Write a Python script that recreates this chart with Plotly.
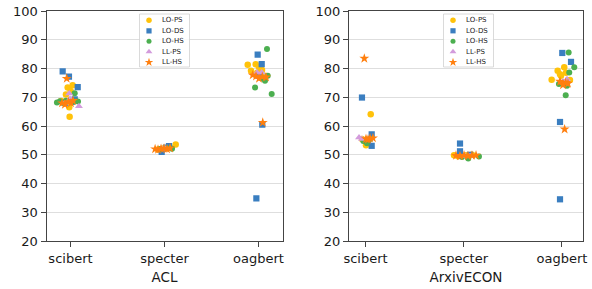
import plotly.graph_objects as go

# ---------------- data ----------------
CATEGORIES = ["scibert", "specter", "oagbert"]
SERIES = ["LO-PS", "LO-DS", "LO-HS", "LL-PS", "LL-HS"]
DATASETS = ["ACL", "ArxivECON"]
Y_TICKS = [20, 30, 40, 50, 60, 70, 80, 90, 100]

# ACL : values per category, and strip-plot jitter (category units)
acl_lo_ps = {"scibert": [73.4, 74.2, 72.2, 66.5, 63.2, 68.7, 69.0, 71.0],
             "specter": [53.6, 52.5, 51.8, 52.2],
             "oagbert": [81.3, 81.5, 79.2, 80.5, 79.5, 78.5, 77.5]}
acl_lo_ps_jit = {"scibert": [-0.03, 0.023, 0.002, -0.013, -0.009, -0.10, 0.048, -0.048],
                 "specter": [0.119, 0.059, -0.069, -0.016],
                 "oagbert": [-0.115, -0.03, -0.08, 0.005, 0.037, -0.016, 0.059]}

acl_lo_ds = {"scibert": [79.0, 77.2, 73.5, 69.3, 68.0, 68.5],
             "specter": [51.0, 53.0, 52.5],
             "oagbert": [84.8, 81.5, 60.5, 34.8, 77.5]}
acl_lo_ds_jit = {"scibert": [-0.083, -0.016, 0.077, 0.045, -0.059, 0.016],
                 "specter": [-0.03, 0.048, 0.016],
                 "oagbert": [-0.009, 0.034, 0.04, -0.023, 0.016]}

acl_lo_hs = {"scibert": [68.2, 68.6, 68.0, 68.8, 68.3, 68.6, 68.5, 71.4],
             "specter": [52.0, 52.3, 52.1],
             "oagbert": [86.8, 77.5, 75.7, 73.4, 71.1, 76.5]}
acl_lo_hs_jit = {"scibert": [-0.144, -0.112, -0.08, -0.048, 0.016, 0.048, 0.08, 0.045],
                 "specter": [-0.048, 0.027, 0.08],
                 "oagbert": [0.09, 0.098, 0.069, -0.037, 0.14, 0.037]}

acl_ll_ps = {"scibert": [71.3, 67.8, 66.9, 69.5],
             "specter": [52.2, 52.0],
             "oagbert": [78.6, 78.6, 77.0]}
acl_ll_ps_jit = {"scibert": [-0.013, -0.066, 0.09, -0.005],
                 "specter": [0.005, -0.027],
                 "oagbert": [-0.016, 0.034, 0.005]}

acl_ll_hs = {"scibert": [76.5, 68.4, 67.5, 68.0, 68.8, 68.0],
             "specter": [52.0, 51.8, 52.1, 52.2, 52.0, 52.3],
             "oagbert": [77.7, 77.1, 77.0, 61.2, 77.3, 76.5]}
acl_ll_hs_jit = {"scibert": [-0.04, -0.023, -0.059, 0.005, 0.027, -0.09],
                 "specter": [-0.10, -0.069, -0.037, -0.005, 0.027, 0.059],
                 "oagbert": [-0.062, 0.04, 0.08, 0.045, -0.027, 0.005]}

# ArxivECON
econ_lo_ps = {"scibert": [64.1, 53.3, 55.5, 54.5],
              "specter": [49.8, 49.5, 49.8, 50.0],
              "oagbert": [80.4, 79.2, 76.1, 77.5, 76.0, 78.5, 78.0]}
econ_lo_ps_jit = {"scibert": [0.053, 0.005, -0.036, 0.025],
                  "specter": [-0.099, -0.059, 0.023, 0.084],
                  "oagbert": [0.023, -0.044, -0.105, -0.01, 0.081, 0.041, -0.02]}

econ_lo_ds = {"scibert": [69.9, 57.1, 53.1, 55.0],
              "specter": [53.9, 51.2, 50.0],
              "oagbert": [85.4, 82.3, 61.4, 34.5, 75.0]}
econ_lo_ds_jit = {"scibert": [-0.036, 0.063, 0.063, 0.025],
                  "specter": [-0.038, -0.038, 0.064],
                  "oagbert": [0.003, 0.092, -0.02, -0.02, 0.041]}

econ_lo_hs = {"scibert": [54.8, 54.0, 55.5],
              "specter": [48.7, 49.4, 49.2],
              "oagbert": [85.6, 80.4, 78.6, 74.6, 70.7, 74.0]}
econ_lo_hs_jit = {"scibert": [-0.022, 0.015, 0.046],
                  "specter": [0.046, 0.155, -0.018],
                  "oagbert": [0.068, 0.125, 0.074, -0.031, 0.038, 0.051]}

econ_ll_ps = {"scibert": [56.0, 55.5],
              "specter": [49.6, 49.5],
              "oagbert": [76.3, 75.5]}
econ_ll_ps_jit = {"scibert": [-0.066, -0.036],
                  "specter": [0.013, 0.064],
                  "oagbert": [0.051, 0.01]}

econ_ll_hs = {"scibert": [83.5, 55.7, 55.5, 55.8, 55.3],
              "specter": [49.7, 49.6, 49.8, 49.6, 49.7, 49.8],
              "oagbert": [75.1, 75.5, 74.3, 58.9, 74.8]}
econ_ll_hs_jit = {"scibert": [-0.012, 0.046, 0.005, 0.076, 0.025],
                  "specter": [-0.079, -0.038, 0.003, 0.043, 0.084, 0.125],
                  "oagbert": [0.038, -0.02, 0.01, 0.027, 0.061]}

DATA = {
    "ACL": [(acl_lo_ps, acl_lo_ps_jit), (acl_lo_ds, acl_lo_ds_jit), (acl_lo_hs, acl_lo_hs_jit),
            (acl_ll_ps, acl_ll_ps_jit), (acl_ll_hs, acl_ll_hs_jit)],
    "ArxivECON": [(econ_lo_ps, econ_lo_ps_jit), (econ_lo_ds, econ_lo_ds_jit), (econ_lo_hs, econ_lo_hs_jit),
                  (econ_ll_ps, econ_ll_ps_jit), (econ_ll_hs, econ_ll_hs_jit)],
}

# ---------------- styles ----------------
COLORS = ["#FFC20A", "#3A7EC0", "#4CAF50", "#D39BDC", "#FF7F0E"]
SYMBOLS = ["circle", "square", "circle", "triangle-up", "star"]
SIZES = [6.5, 6.2, 6.0, 7.0, 7.5]
LEG_SIZES = [5.5, 5.2, 5.0, 6.0, 6.5]

W, H = 592, 289
AX_TOP, AX_BOT = 11, 241
PANELS = [  # left/right pixel edges, x range, legend box
    dict(x0=46.5, x1=282.5, xr=[-0.255, 2.255], leg=(139.5, 189.5)),
    dict(x0=349.0, x1=583.0, xr=[-0.168, 2.214], leg=(443.5, 493.5)),
]
LEG_TOP, LEG_BOT = 14, 67
LEG_ROWS = [20.3, 30.8, 41.3, 51.8, 62.3]

fig = go.Figure()
FONT = "DejaVu Sans"
TXT = "#1a1a1a"
AXC = "#444444"

annotations = []
for p, (ds, panel) in enumerate(zip(DATASETS, PANELS)):
    xa = "x" if p == 0 else "x2"
    ya = "y" if p == 0 else "y2"
    for s, (vals, jit) in enumerate(DATA[ds]):
        xs, ys = [], []
        for c, cat in enumerate(CATEGORIES):
            for v, j in zip(vals[cat], jit[cat]):
                xs.append(c + j)
                ys.append(v)
        fig.add_trace(go.Scatter(
            x=xs, y=ys, mode="markers", xaxis=xa, yaxis=ya, name=SERIES[s],
            marker=dict(symbol=SYMBOLS[s], color=COLORS[s], size=SIZES[s], line=dict(width=0)),
            showlegend=False, hoverinfo="skip"))

    # legend drawn on an overlay axis in pixel units
    lxa = "x3" if p == 0 else "x4"
    lya = "y3" if p == 0 else "y4"
    lx0, lx1 = panel["leg"]
    fig.add_trace(go.Scatter(
        x=[lx0, lx1, lx1, lx0, lx0], y=[LEG_TOP, LEG_TOP, LEG_BOT, LEG_BOT, LEG_TOP],
        mode="lines", fill="toself", fillcolor="rgba(255,255,255,0.85)",
        line=dict(color="#d0d0d0", width=0.8), xaxis=lxa, yaxis=lya,
        showlegend=False, hoverinfo="skip"))
    for s, name in enumerate(SERIES):
        fig.add_trace(go.Scatter(
            x=[lx0 + 9.5], y=[LEG_ROWS[s]], mode="markers", xaxis=lxa, yaxis=lya,
            marker=dict(symbol=SYMBOLS[s], color=COLORS[s], size=LEG_SIZES[s], line=dict(width=0)),
            showlegend=False, hoverinfo="skip"))
        annotations.append(dict(
            x=lx0 + 20.5, y=LEG_ROWS[s], xref=lxa, yref=lya, text=name, showarrow=False,
            xanchor="left", yanchor="middle", font=dict(family=FONT, size=7, color=TXT)))

def xaxis_cfg(panel, title):
    return dict(
        domain=[panel["x0"] / W, panel["x1"] / W], range=panel["xr"],
        tickmode="array", tickvals=list(range(len(CATEGORIES))), ticktext=CATEGORIES,
        ticks="outside", ticklen=5, tickwidth=1, tickcolor=AXC,
        showline=True, linecolor=AXC, linewidth=1, mirror=True,
        showgrid=False, zeroline=False, ticklabeloverflow="allow",
        tickfont=dict(family=FONT, size=13, color=TXT),
        title=dict(text=title, font=dict(family=FONT, size=13.5, color=TXT), standoff=7),
        automargin=False, fixedrange=True)

def yaxis_cfg():
    return dict(
        domain=[1 - AX_BOT / H, 1 - AX_TOP / H], range=[20, 100],
        tickmode="array", tickvals=Y_TICKS, ticktext=[str(t) for t in Y_TICKS],
        ticks="outside", ticklen=5, tickwidth=1, tickcolor=AXC,
        showline=True, linecolor=AXC, linewidth=1, mirror=True,
        showgrid=True, gridcolor="#dedede", gridwidth=1, zeroline=False,
        ticklabeloverflow="allow",
        tickfont=dict(family=FONT, size=13, color=TXT),
        automargin=False, fixedrange=True)

fig.update_layout(
    width=W, height=H, margin=dict(l=0, r=0, t=0, b=0),
    paper_bgcolor="white", plot_bgcolor="white", showlegend=False,
    hovermode=False,
    xaxis=xaxis_cfg(PANELS[0], "ACL"),
    yaxis=yaxis_cfg(),
    xaxis2=dict(xaxis_cfg(PANELS[1], "ArxivECON"), anchor="y2"),
    yaxis2=dict(yaxis_cfg(), anchor="x2"),
    xaxis3=dict(overlaying="x", range=[PANELS[0]["x0"], PANELS[0]["x1"]], visible=False, fixedrange=True),
    yaxis3=dict(overlaying="y", range=[AX_BOT, AX_TOP], visible=False, fixedrange=True),
    xaxis4=dict(overlaying="x2", range=[PANELS[1]["x0"], PANELS[1]["x1"]], visible=False, fixedrange=True),
    yaxis4=dict(overlaying="y2", range=[AX_BOT, AX_TOP], visible=False, fixedrange=True),
    annotations=annotations,
)

# remove the default 8px page margin so the figure fills the window exactly
fig.write_html("out.html", config={"displayModeBar": False, "staticPlot": True},
               post_script="document.body.style.margin='0';")
